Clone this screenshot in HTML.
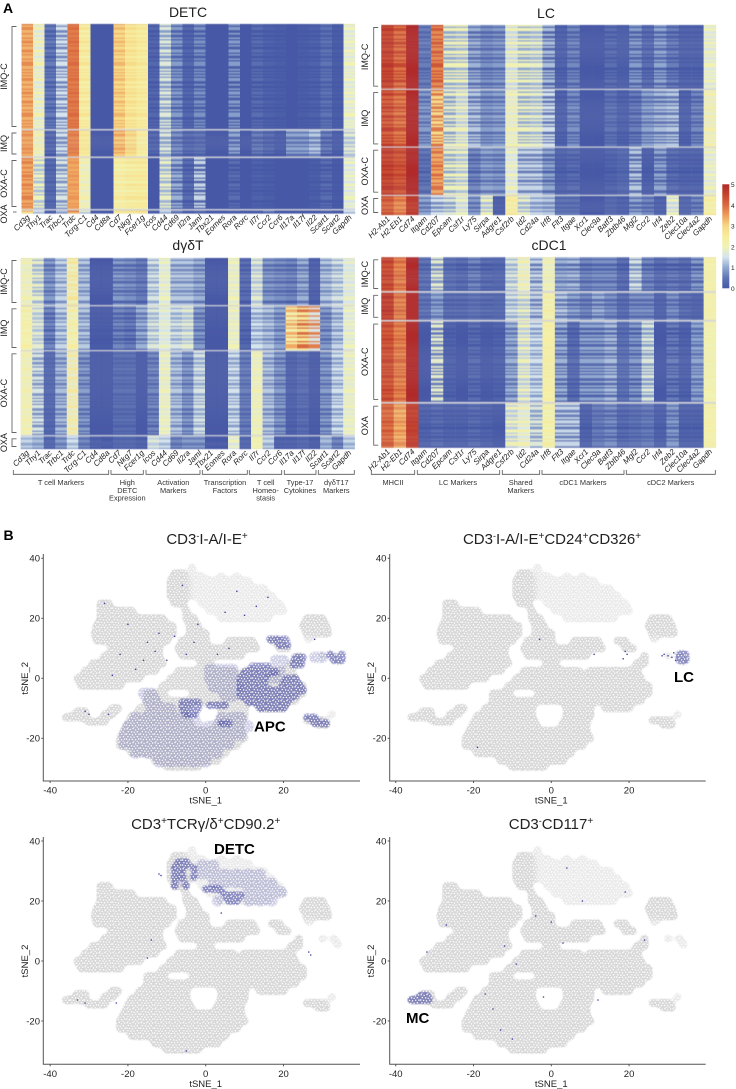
<!DOCTYPE html>
<html lang="en">
<head>
<meta charset="utf-8">
<title>Heatmaps and tSNE plots</title>
<style>
html,body{margin:0;padding:0;background:#fff}
svg{display:block}
text{font-family:"Liberation Sans",sans-serif;fill:#222}
.gene{font-size:8px;font-style:italic}
.grp{font-size:9px;text-anchor:middle}
.cat{font-size:7.4px;text-anchor:middle;fill:#333}
.ttl{font-size:14px;text-anchor:middle}
.ttlb{font-size:15px;text-anchor:middle}
.tick{font-size:9.5px}
.call{font-size:15px;font-weight:bold;fill:#000}
.pl{font-size:14px;font-weight:bold;fill:#000}
</style>
</head>
<body>
<svg id="fig" xmlns="http://www.w3.org/2000/svg" width="736" height="1089" viewBox="0 0 736 1089">
<defs>
<linearGradient id="cbar" x1="0" y1="1" x2="0" y2="0">
<stop offset="0" stop-color="#4658a6"/><stop offset=".1" stop-color="#5f74b4"/><stop offset=".2" stop-color="#90a8d0"/><stop offset=".3" stop-color="#d6e4ee"/><stop offset=".4" stop-color="#f0f3b6"/><stop offset=".5" stop-color="#f8ec9c"/><stop offset=".6" stop-color="#f6d886"/><stop offset=".7" stop-color="#ee9f5c"/><stop offset=".8" stop-color="#d96a40"/><stop offset=".9" stop-color="#c5452f"/><stop offset="1" stop-color="#b02a2a"/>
</linearGradient>
<filter id="heatBlur" x="-2%" y="-2%" width="104%" height="104%"><feGaussianBlur stdDeviation=".25 .55"/></filter>
<filter id="cloudBlur" x="-5%" y="-5%" width="110%" height="110%">
<feGaussianBlur stdDeviation="2.6"/>
<feComponentTransfer><feFuncA type="linear" slope="4" intercept="-1.5"/></feComponentTransfer>
</filter>
<filter id="blueBlur" x="-10%" y="-10%" width="120%" height="120%">
<feGaussianBlur stdDeviation="2.4"/>
<feComponentTransfer><feFuncA type="linear" slope="3" intercept="-1"/></feComponentTransfer>
</filter>
<pattern id="whiteSpeck" patternUnits="userSpaceOnUse" width="14" height="14">
<g fill="#fff"><circle cx="1.2" cy=".8" r=".75"/><circle cx="4.1" cy="1.5" r=".7"/><circle cx="7" cy=".5" r=".75"/><circle cx="9.6" cy="1.9" r=".7"/><circle cx="12.6" cy="1" r=".75"/><circle cx="2.3" cy="3.6" r=".7"/><circle cx="5.6" cy="3.9" r=".75"/><circle cx="8.2" cy="4.3" r=".7"/><circle cx="11.3" cy="3.7" r=".75"/><circle cx=".7" cy="6" r=".75"/><circle cx="3.6" cy="6.4" r=".7"/><circle cx="6.5" cy="6.9" r=".75"/><circle cx="9.7" cy="6.3" r=".7"/><circle cx="13" cy="6.1" r=".75"/><circle cx="1.9" cy="8.7" r=".7"/><circle cx="4.9" cy="9.1" r=".75"/><circle cx="8.1" cy="9.2" r=".7"/><circle cx="11.4" cy="8.6" r=".75"/><circle cx=".6" cy="11" r=".75"/><circle cx="3.4" cy="11.6" r=".7"/><circle cx="6.4" cy="11.4" r=".75"/><circle cx="9.6" cy="11.7" r=".7"/><circle cx="12.7" cy="11" r=".75"/><circle cx="2" cy="13.3" r=".6"/><circle cx="7.9" cy="13.3" r=".6"/><circle cx="11.2" cy="13.2" r=".6"/></g>
</pattern>
</defs>

<text class="pl" x="3" y="13">A</text>
<text class="pl" x="3.5" y="540">B</text>

<text class="ttl" x="188" y="17">DETC</text>
<text class="ttl" x="546" y="18">LC</text>
<text class="ttl" x="188" y="250">dγδT</text>
<text class="ttl" x="549" y="250">cDC1</text>

<g id="heatLayer"></g>

<g fill="none" stroke="#555" stroke-width=".8">
<path d="M13.3 470V474.3H108.7V470"/>
<path d="M111 470V474.3H143.3V470"/>
<path d="M146 470V474.3H200V470"/>
<path d="M202.3 470V474.3H247.3V470"/>
<path d="M249.3 470V474.3H281.7V470"/>
<path d="M284.3 470V474.3H316V470"/>
<path d="M318.3 470V474.3H354.3V470"/>
</g>
<g>
<text class="cat" x="61" y="485">T cell Markers</text>
<text class="cat" x="127.3" y="485">High</text>
<text class="cat" x="127.3" y="493">DETC</text>
<text class="cat" x="127.3" y="500.7">Expression</text>
<text class="cat" x="173.3" y="485">Activation</text>
<text class="cat" x="173.3" y="493">Markers</text>
<text class="cat" x="225" y="485">Transcription</text>
<text class="cat" x="225" y="493">Factors</text>
<text class="cat" x="265.7" y="485">T cell</text>
<text class="cat" x="265.7" y="493">Homeo-</text>
<text class="cat" x="265.7" y="500.7">stasis</text>
<text class="cat" x="300" y="485">Type-17</text>
<text class="cat" x="300" y="493">Cytokines</text>
<text class="cat" x="336.3" y="485">dγδT17</text>
<text class="cat" x="336.3" y="493">Markers</text>
</g>
<g fill="none" stroke="#555" stroke-width=".8">
<path d="M371.3 470V474.3H414.7V470"/>
<path d="M417.3 470V474.3H499.7V470"/>
<path d="M502.3 470V474.3H539.7V470"/>
<path d="M542 470V474.3H624V470"/>
<path d="M626.3 470V474.3H715.3V470"/>
</g>
<g>
<text class="cat" x="393" y="485">MHCII</text>
<text class="cat" x="458" y="485">LC Markers</text>
<text class="cat" x="520.7" y="485">Shared</text>
<text class="cat" x="520.7" y="493">Markers</text>
<text class="cat" x="583" y="485">cDC1 Markers</text>
<text class="cat" x="670.7" y="485">cDC2 Markers</text>
</g>

<g>
<rect x="722.3" y="184.3" width="7" height="104" fill="url(#cbar)"/>
<text x="731" y="187" style="font-size:6.5px">5</text>
<text x="731" y="207.8" style="font-size:6.5px">4</text>
<text x="731" y="228.6" style="font-size:6.5px">3</text>
<text x="731" y="249.4" style="font-size:6.5px">2</text>
<text x="731" y="270.2" style="font-size:6.5px">1</text>
<text x="731" y="291" style="font-size:6.5px">0</text>
</g>

<g id="tsneLayer"></g>

<text class="ttlb" x="207" y="544">CD3<tspan dy="-5" font-size="9">-</tspan><tspan dy="5">I-A/I-E</tspan><tspan dy="-5" font-size="10">+</tspan></text>
<text class="ttlb" x="552" y="544">CD3<tspan dy="-5" font-size="9">-</tspan><tspan dy="5">I-A/I-E</tspan><tspan dy="-5" font-size="10">+</tspan><tspan dy="5">CD24</tspan><tspan dy="-5" font-size="10">+</tspan><tspan dy="5">CD326</tspan><tspan dy="-5" font-size="10">+</tspan></text>
<text class="ttlb" x="205.7" y="829">CD3<tspan dy="-5" font-size="10">+</tspan><tspan dy="5">TCRγ/δ</tspan><tspan dy="-5" font-size="10">+</tspan><tspan dy="5">CD90.2</tspan><tspan dy="-5" font-size="10">+</tspan></text>
<text class="ttlb" x="551" y="829">CD3<tspan dy="-5" font-size="9">-</tspan><tspan dy="5">CD117</tspan><tspan dy="-5" font-size="10">+</tspan></text>

<text class="call" x="254" y="731.5">APC</text>
<text class="call" x="674" y="682">LC</text>
<text class="call" x="214" y="854">DETC</text>
<text class="call" x="406" y="1023">MC</text>
</svg>

<script>
const tcellGenes = ["Cd3g","Thy1","Trac","Trbc1","Trdc","Tcrg-C1","Cd4","Cd8a","Cd7","Nkg7","Fcer1g","Icos","Cd44","Cd69","Il2ra","Jaml","Tbx21","Eomes","Rora","Rorc","Il7r","Ccr2","Ccr6","Il17a","Il17f","Il22","Scart1","Scart2","Gapdh"];
const dcGenes = ["H2-Ab1","H2-Eb1","Cd74","Itgam","Cd207","Epcam","Csf1r","Ly75","Sirpa","Adgre1","Csf2rb","Id2","Cd24a","Irf8","Flt3","Itgae","Xcr1","Clec9a","Batf3","Zbtb46","Mgl2","Ccr2","Irf4","Zeb2","Clec10a","Clec4a2","Gapdh"];
const groupNames = ["IMQ-C","IMQ","OXA-C","OXA"];

const detcSizes = [105,26,51,3];
const lcSizes = [63.7,56.5,47,19];
const gdtSizes = [47,43.7,83.7,12.7];
const cdc1Sizes = [33.7,27,80.3,44];

const detcImqCHigh = [3.7,2.3,.6,1.5,4,2.7,0,0,3.3,2.9,2.7,.3,1.7,.9,.3,.8,0,0,.9,0,.4,.2,.1,0,.1,.2,.5,.1,2.1];
const detcImqCLow = [3.3,1.6,.1,.7,3.8,2.2,0,0,2.9,2.5,2.3,0,.9,.2,0,.1,0,0,.1,0,0,0,0,0,0,0,.1,0,1.6];
const detcImqHigh = [3.7,2.3,.4,1.5,3.9,2.7,0,0,3.5,3.1,2.6,.3,1.7,.8,.4,.5,0,0,1,0,.6,.4,.1,1,1,1.3,.6,.1,1.8];
const detcImqLow = [3.4,1.8,0,.7,3.7,2.4,0,0,3.1,2.7,2.2,0,.9,.2,0,.1,0,0,.2,0,.1,0,0,.4,.4,.6,0,0,1.2];
const detcOxaCHigh = [3.8,2,.4,1.6,3.6,2.3,0,0,2.6,2.7,2.7,0,1.9,1.1,.4,1.4,0,0,.4,0,.2,.1,0,0,0,.1,.4,.05,2];
const detcOxaCLow = [3.4,1.2,.1,.8,3.4,1.8,0,0,2.1,2.2,2.3,0,1.1,.3,0,.3,0,0,0,0,0,0,0,0,0,0,0,0,1.5];
const detcOxaHigh = [3.3,1.5,.2,1.2,3.9,1.8,0,0,2.8,2.9,3,.1,1.4,.7,.2,.4,0,0,.2,0,.1,.6,0,0,0,0,.2,0,1.5];
const detcOxaLow = [2.7,1.1,0,.8,3.3,1.2,0,0,2.4,2.5,2.6,0,1,.3,0,.1,0,0,0,0,0,.2,0,0,0,0,0,0,1.1];

const gdtImqCHigh = [2.2,1.9,.9,1.4,2.7,1.3,0,0,.9,.8,.6,1.6,2,1.3,1.3,1.1,0,0,2.1,.4,1.8,.9,.8,.7,1.1,.2,1.3,1.6,1.9];
const gdtImqCLow = [1.8,1.1,.3,.8,1.9,.7,0,0,.2,.2,.1,1,1.6,.7,.7,.5,0,0,1.7,0,1.2,.3,.2,.1,.5,0,.7,1,1.5];
const gdtImqHigh = [2.4,1.8,.7,1.4,2.5,1.3,.05,.05,.7,.6,1.1,1.7,1.9,1.6,1.8,.9,0,0,2.1,.3,1.5,1.3,1,3.4,4,3.8,.9,1.4,2];
const gdtImqLow = [2,1.2,.1,.8,1.9,.7,0,0,.1,0,.5,1.1,1.5,1,1.2,.3,0,0,1.7,0,.9,.7,.4,2.2,2.6,1.6,.3,.8,1.6];
const gdtOxaCHigh = [2.3,1.6,.3,1.2,2.6,.9,0,0,.4,.4,0,.7,2.1,1.3,.9,1.6,0,0,1.5,.6,2.2,1.3,.9,.2,.4,.05,.9,1.5,2.1];
const gdtOxaCLow = [1.9,.8,.1,.6,1.8,.3,0,0,.1,.1,0,.2,1.7,.7,.3,1,0,0,.9,.2,1.8,.7,.3,0,.1,0,.3,.9,1.7];
const gdtOxaHigh = [1.4,1.2,.3,.9,1.5,.7,.2,.05,.3,.3,.2,1.7,1.5,.7,.9,.9,0,0,2,.3,2.2,1.4,.2,.2,.3,.1,1.2,.7,1.4];
const gdtOxaLow = [1,.8,.1,.5,1.1,.3,0,0,.1,.1,0,1.3,1.1,.3,.5,.5,0,0,1.6,.1,2,1,0,0,.1,0,.8,.3,1];

const lcImqCHigh = [4.8,4.5,5,.6,4.3,2,2.1,1.1,.8,.9,2.1,2,1.9,1.2,.2,.7,0,0,.4,.1,.9,.4,1,.6,.2,.2,2.1];
const lcImqCLow = [4.4,3.9,5,.2,3.7,1,1.1,.3,.2,.3,1.4,1,1.1,.2,0,.1,0,0,0,.05,.1,0,.2,0,0,0,1.6];
const lcImqHigh = [4.7,4.4,5,.9,3.9,1.9,2.1,1.3,.9,1,2.2,2,1.9,1.5,.2,.8,0,0,.5,.2,.6,1,1.2,1.3,.2,.7,2.3];
const lcImqLow = [4.1,3.8,5,.3,2.9,.9,1.3,.5,.3,.4,1.7,1,1.1,.5,0,.2,0,0,.1,0,0,.4,.4,.5,0,.1,1.8];
const lcOxaCHigh = [4.8,4.6,5,.5,4,2,2,.7,1,.9,2.1,1.4,1.4,1,.2,.4,0,0,.2,.3,1.3,.1,1,.4,.2,.2,2.1];
const lcOxaCLow = [4.4,4.2,5,.1,3.4,1,1.2,.1,.4,.3,1.5,.6,.6,.2,0,0,0,0,0,.1,.3,0,.2,0,0,0,1.6];
const lcOxaHigh = [4.4,4,4.8,1,1.5,1.7,2,.9,2,.1,2.6,1.9,1.4,1.3,.5,.5,0,0,.3,.2,1,.7,.2,2,.3,.7,2.5];
const lcOxaLow = [4,3.6,4.6,.4,.7,.9,1.4,.3,1.2,0,2.2,1.1,.8,.7,.1,.1,0,0,.1,0,.2,.1,0,1.4,.1,.1,2.1];

const cdc1ImqCHigh = [4.7,4.1,5,.5,1.8,.5,.4,.7,.4,.3,1.7,2.3,1.4,2.2,1.1,1.2,.7,.8,.8,.4,1.6,.7,.4,.6,.4,.9,2.3];
const cdc1ImqCLow = [4.3,3.7,5,.1,.8,.1,0,.1,0,.1,1.1,1.7,.6,1.8,.5,.4,.1,.2,.2,0,.8,.1,0,0,0,.1,2.1];
const cdc1ImqHigh = [4.9,4.1,5,.5,1,.4,.4,.5,.4,.3,1.6,2,1.4,2.4,1.3,1,.7,1.1,.8,.4,.8,.8,.2,.8,.4,.2,2.3];
const cdc1ImqLow = [4.5,3.7,5,.1,.4,0,0,.1,0,.1,1,1.2,.6,2,.5,.2,.1,.3,.2,0,.2,.2,0,.2,0,0,2.1];
const cdc1OxaCHigh = [4.6,4.1,5,0,1.8,.2,0,.4,.05,.2,1.1,2.1,1.5,2.4,1.1,.4,1,1,1.2,.5,.9,1.7,0,.6,.2,1,2.2];
const cdc1OxaCLow = [4.2,3.7,5,0,.6,0,0,0,0,0,.5,1.3,.9,2.2,.3,0,.2,.2,.4,.1,.1,.9,0,0,0,.4,2];
const cdc1OxaHigh = [4.3,3.7,4.7,.2,.4,.2,.2,.4,.2,.05,2.1,2.2,1.7,2.4,1.4,1.4,.2,.6,.8,.4,.5,.6,.2,.9,.2,.2,2.3];
const cdc1OxaLow = [3.9,3.3,4.5,0,0,0,0,0,0,0,1.3,1.6,.9,2,.6,.6,0,.2,.2,0,.1,.2,0,.3,0,0,2.1];

const rowOrder = [0,1,0,0,1,1,0,1,1,0,1,0,0,1,0,1,1,0,0,1,0,1,1,0,1,0,0,0,1,1,0,1,0,1];
const legendValues = [0,.5,1,1.5,2,2.5,3,3.5,4,4.5,5];
const legendColors = ["#4658a6","#5f74b4","#90a8d0","#d6e4ee","#f0f3b6","#f8ec9c","#f6d886","#ee9f5c","#d96a40","#c5452f","#b02a2a"];

const grayDenseY = [35,32.5,30,27.5,25,22.5,20,17.5,15,12.5,10,7.5,5,2.5,0,-2.5,-5,-7.5,-10,-12.5,-15,-17.5,-20,-22.5,-25,-27.5,-29.5,-13,-11,-14.5,-12,-10,-14,-15.5];
const grayDenseX = [
[-8,-6],
[-9,-7,-5],
[-9,-7,-5],
[-9,-7,-5],
[-27,-25,-8,-6],
[-27,-25,-23,-21,-19,-5],
[-27,-25,-23,-21,-19,-17,-15,-13,-11,-5,-3,26,28,30],
[-28,-26,-24,-22,-20,-18,-16,-14,-12,-10,-8.5,-4,-2,25,27,29,31],
[-28.5,-26,-24,-22,-20,-18,-16,-14,-12,-10,-8.5,-4,-2,0,26,28,30,31.5],
[-28,-26,-24,-22,-20,-18,-16,-14,-12,-10,-6,-4,-2,0,6,8,10,12,17,19],
[-24,-22,-20,-18,-16,-14,-12,-7,-5,-3,-1,1,3,5,7,9,11,13,19,21],
[-26,-24,-22,-20,-18,-16,-14,-12,-6,-4,-2,0,3,5,7,9,24],
[-29,-27,-25,-23,-21,-19,-17,-15,-13,-11,-1,1,22,24],
[-31,-29,-27,-25,-23,-21,-19,-17,-15,-13,-7,-5,-3,-1,1,3,5,7,10,12,14,16,18,20,22],
[-33,-31,-29,-27,-25,-23,-21,-19,-17,-9,-7,-5,-3,-1,1,3,5,7,9,11,13,15,17,19,21,23],
[-32,-30,-28,-26,-24,-22,-11,-9,-7,-5,-3,-1,1,3,5,7,9,11,13,15,17,19,21,23,25],
[-15,-13,-11,-3,-1,1,3,5,7,9,11,13,15,17,19,21,23,25],
[-15,-13,-11,-9,-7,-5,-3,-1,1,3,5,7,9,11,13,15,17,19,21,23],
[-17,-15,-13,-11,-9,-7,-5,4,6,8,10,14,16,18,20],
[-19,-17,-15,-13,-11,-9,-7,-5,4,6,8,10],
[-20,-18,-16,-14,-12,-10,-8,-6,-4,3,5,7,9],
[-21,-19,-17,-15,-13,-11,-9,-7,-5,-3,-1,1,3,5,7,9],
[-22,-20,-18,-16,-14,-12,-10,-8,-6,-4,-2,0,2,4,6,8,10],
[-22,-20,-18,-16,-14,-12,-10,-8,-6,-4,-2,0,2,4,6,8],
[-19,-17,-15,-13,-11,-9,-7,-5,-3,-1,1,3,5],
[-13,-11,-9,-7,-5,-3,-1,1,3],
[-10,-8,-6,-4,-2],
[-36,-34.5,-32.5,-31],
[-33,-31],
[-30,-28,-26],
[-26,-24],
[-24,-22.5],
[26,28,30],
[29,31]
];
const graySparseY = [37,34,32.5,30,27.5,25,22.5,20,13,7.5,5.5,-12];
const graySparseX = [
[-3.5],
[-3,-1,4,8],
[-3,-1,1,3,5,7,9,11],
[-3,-1,1,3,5,7,9,11,13,15],
[-3,-1,1,3,5,7,9,11,13,15,17],
[-1,1,3,5,7,9,11,13,15,17,19],
[1,3,5,7,9,11,13,15,17,19,20],
[4,6,8,10,12,14,16],
[26.5],
[30,33],
[34],
[32.5]
];

const apcDenseY = [13,11,7,4.5,4,2,0,-2,-4,-6,-8,-10,-8,-10,-12,-9,-15,8,6,-13,-15];
const apcDenseX = [
[16.5,18.5,20.5],[19,21],[23,25],[22.5,24.5],[12,14,16],[10,12,14,16,18],
[9,11,13,15,21,23],[9,11,13,15,20,22,24],[9,11,13,15,17,19,21,23,25],
[9,11,13,15,17,19,21,23],[11,13,15,17,19,21],[14,16,18,20],
[-6,-4,-2],[-6,-4,-2],[-5,-3],[1,3,5],[4,6],[32,35],[33,35],[26,28],[28,30,31]
];
const apcSparseY = [6,3,0,-3,-6,-5,-7,-10,-13,-16,-19,-22,-25,-28,7];
const apcSparseX = [
[18,20],[1,3,5,7,19],[1,3,5,7,17,19],[2,4,6,8],[5,7],[-16,-14],[-15,-13],[-14,-11,-9],
[-18,-15,-12,-9,-6,-3,4,7,9],[-20,-17,-14,-11,-8,-5,-2,1,3,6,9,11],
[-21,-18,-15,-12,-9,-6,-3,0,3,6,9],[-21,-18,-15,-12,-9,-6,-3,0,3,6],
[-18,-15,-12,-9,-6,-3,0,3],[-12,-9,-6,-3,0],[28,30]
];
const apcScatterX = [-15,-13,-5,-3,-2,-30,-31,-26,5,8,13,-18,-10,-20,-12,-25,28,-22,3,6,10,-8,-16,-24,16,-6];
const apcScatterY = [12,9,8,12,18,-12,-11,25,22,29,24,3,6,18,15,-12,13,8,8,10,21,14,6,1,27,31];

const detcDenseY = [33,31,28,25,24,22,20];
const detcDenseX = [[-7,-5],[-8,-6,-3],[-8,-6,-3],[-8,-5],[0,2,3.5],[5,7,9],[6,8]];
const detcSparseY = [32,29,26,23,20];
const detcSparseX = [[-1,2],[-1,2,5,8,11,14],[2,5,8,11,14,17],[11,14,17,19.5],[3,11,14,17]];
const detcScatterX = [-12,-11.5,4,27,26.5,-15,-31,-33,-14,-23,-5];
const detcScatterY = [29,28.5,16,2,3,1,-14,-13,7,-14,-30];

const lcDenseY = [8,6];
const lcDenseX = [[33,34.5],[33,34.5]];
const lcSparseY = [];
const lcSparseX = [];
const lcScatterX = [29,30,31,28.5,19,-3,18.5,32,31.5,19.5,11,-19];
const lcScatterY = [8,7.5,7,7.5,9,13,6.5,6,8.5,8,8,-23];

const mcDenseY = [-11.5,-13];
const mcDenseX = [[-33.5,-32],[-36,-34.5,-33,-31.5]];
const mcSparseY = [];
const mcSparseX = [];
const mcScatterX = [4,8,-4,0,3,24,-27,-32,-12,-9,-17,-15,-10,-2,12,19,-13];
const mcScatterY = [31,20,15,13,6,7,12,3,5,-1,-11,-16,-26,-12,-13,23,-23];

const xTickValues = [-40,-20,0,20];
const yTickValues = [-20,0,20,40];

const SVGNS = "http://www.w3.org/2000/svg";
function colorFor(v){
  let t = Math.max(0, Math.min(5, v));
  let i = 0;
  while(i < legendValues.length - 2 && t > legendValues[i + 1]) i++;
  const f = (t - legendValues[i]) / (legendValues[i + 1] - legendValues[i]);
  const a = legendColors[i], b = legendColors[i + 1];
  let out = "rgb(";
  for(let k = 0; k < 3; k++){
    const p = parseInt(a.substr(1 + 2 * k, 2), 16), q = parseInt(b.substr(1 + 2 * k, 2), 16);
    out += Math.round(p + (q - p) * f) + (k < 2 ? "," : ")");
  }
  return out;
}

const heatLayer = document.getElementById("heatLayer");
function drawHeatmap(cfg){
  const g = document.createElementNS(SVGNS, "g");
  
  
  const cells = document.createElementNS(SVGNS, "g");
  cells.setAttribute("filter", "url(#heatBlur)");
  
  
  const total = cfg.sizes.reduce((s, v) => s + v, 0);
  const scaleY = (cfg.h - cfg.gap * 3) / total;
  const cw = cfg.w / cfg.genes.length;
  const xOf = i => cfg.x + i * cw;
  const bg = document.createElementNS(SVGNS, "rect");
  bg.setAttribute("x", cfg.x);
  bg.setAttribute("y", cfg.y);
  bg.setAttribute("width", cfg.w);
  bg.setAttribute("height", cfg.h);
  bg.setAttribute("fill", "#d4d5da");
  
  
  g.appendChild(bg);
  g.appendChild(cells);
  let y = cfg.y;
  cfg.sizes.forEach((size, gi) => {
    const h = size * scaleY;
    const n = Math.max(1, Math.round(h / 1.5));
    const rh = h / n;
    for(let r = 0; r < n; r++){
      const vals = cfg.rows[gi][rowOrder[r % rowOrder.length]];
      vals.forEach((v, c) => {
        const el = document.createElementNS(SVGNS, "rect");
        el.setAttribute("x", xOf(c).toFixed(2));
        el.setAttribute("y", (y + r * rh).toFixed(2));
        el.setAttribute("width", (cw + .2).toFixed(2));
        el.setAttribute("height", (rh + .05).toFixed(2));
        el.setAttribute("fill", colorFor(v));
        
        
        cells.appendChild(el);
      });
    }
    const top = y + 2.5, bot = y + h - 2.5;
    const br = document.createElementNS(SVGNS, "path");
    const bx = cfg.bracketX;
    br.setAttribute("d", h > 8 ? `M${bx + 4.5} ${top}H${bx}V${bot}H${bx + 4.5}` : `M${bx + 1} ${y + h / 2}H${bx + 4.5}`);
    br.setAttribute("fill", "none");
    br.setAttribute("stroke", "#666");
    br.setAttribute("stroke-width", ".9");
    
    
    g.appendChild(br);
    const tx = document.createElementNS(SVGNS, "text");
    const ly = h > 8 ? y + h / 2 : y + h / 2 + 2;
    tx.setAttribute("class", "grp");
    tx.setAttribute("transform", `translate(${cfg.labelX} ${ly}) rotate(-90)`);
    tx.setAttribute("y", "3");
    tx.textContent = groupNames[gi];
    
    
    g.appendChild(tx);
    y += h + cfg.gap;
  });
  cfg.genes.forEach((name, i) => {
    const cx = xOf(i) + cw / 2 + 3, cy = cfg.y + cfg.h + 4.5;
    const tx = document.createElementNS(SVGNS, "text");
    tx.setAttribute("class", "gene");
    tx.setAttribute("text-anchor", "end");
    tx.setAttribute("x", cx.toFixed(1));
    tx.setAttribute("y", cy.toFixed(1));
    tx.setAttribute("transform", `rotate(-45 ${cx.toFixed(1)} ${cy.toFixed(1)})`);
    tx.textContent = name;
    
    
    g.appendChild(tx);
  });
  heatLayer.appendChild(g);
}
drawHeatmap({name:"detc-heatmap",x:21.5,y:24,w:333.5,h:189.5,gap:1.5,bracketX:12,labelX:4,genes:tcellGenes,sizes:detcSizes,
  rows:[[detcImqCHigh,detcImqCLow],[detcImqHigh,detcImqLow],[detcOxaCHigh,detcOxaCLow],[detcOxaHigh,detcOxaLow]]});
drawHeatmap({name:"lc-heatmap",x:381.3,y:25,w:334.7,h:190,gap:1.3,bracketX:373.7,labelX:365,genes:dcGenes,sizes:lcSizes,
  rows:[[lcImqCHigh,lcImqCLow],[lcImqHigh,lcImqLow],[lcOxaCHigh,lcOxaCLow],[lcOxaHigh,lcOxaLow]]});
drawHeatmap({name:"gd-t-heatmap",x:20.7,y:258,w:334,h:191,gap:1.3,bracketX:12,labelX:4,genes:tcellGenes,sizes:gdtSizes,
  rows:[[gdtImqCHigh,gdtImqCLow],[gdtImqHigh,gdtImqLow],[gdtOxaCHigh,gdtOxaCLow],[gdtOxaHigh,gdtOxaLow]]});
drawHeatmap({name:"cdc1-heatmap",x:381.3,y:257.3,w:334.7,h:190.4,gap:1.8,bracketX:373.7,labelX:365,genes:dcGenes,sizes:cdc1Sizes,
  rows:[[cdc1ImqCHigh,cdc1ImqCLow],[cdc1ImqHigh,cdc1ImqLow],[cdc1OxaCHigh,cdc1OxaCLow],[cdc1OxaHigh,cdc1OxaLow]]});

const tsneLayer = document.getElementById("tsneLayer");
function drawTsne(cfg){
  const g = document.createElementNS(SVGNS, "g");
  
  
  const sx = v => cfg.x0 + 3.889 * v;
  const sy = v => cfg.y0 - 3 * v;
  function cloud(parent, ys, xs, fill, r, label){
    ys.forEach((yv, i) => {
      xs[i].forEach(xv => {
        const c = document.createElementNS(SVGNS, "circle");
        c.setAttribute("cx", sx(xv).toFixed(1));
        c.setAttribute("cy", sy(yv).toFixed(1));
        c.setAttribute("r", r);
        c.setAttribute("fill", fill);
        
        
        parent.appendChild(c);
      });
    });
  }
  const grayGroup = document.createElementNS(SVGNS, "g");
  grayGroup.setAttribute("filter", "url(#cloudBlur)");
  
  
  cloud(grayGroup, graySparseY, graySparseX, "#ebebeb", 4.7, "gray-cell-cloud");
  cloud(grayGroup, grayDenseY, grayDenseX, "#d9d9d9", 4.7, "gray-cell-cloud");
  g.appendChild(grayGroup);
  const blueSparse = document.createElementNS(SVGNS, "g");
  blueSparse.setAttribute("opacity", ".24");
  blueSparse.setAttribute("filter", "url(#blueBlur)");
  
  
  cloud(blueSparse, cfg.sparseY, cfg.sparseX, "#3c419f", 6, "blue-cell-cloud");
  g.appendChild(blueSparse);
  const blueDense = document.createElementNS(SVGNS, "g");
  blueDense.setAttribute("opacity", ".55");
  blueDense.setAttribute("filter", "url(#blueBlur)");
  
  
  cloud(blueDense, cfg.denseY, cfg.denseX, "#3c419f", 4.4, "blue-cell-cloud");
  g.appendChild(blueDense);
  const speck = document.createElementNS(SVGNS, "rect");
  speck.setAttribute("x", cfg.axisX + 1);
  speck.setAttribute("y", cfg.top);
  speck.setAttribute("width", cfg.right - cfg.axisX - 1);
  speck.setAttribute("height", cfg.bottom - cfg.top - 1);
  speck.setAttribute("fill", "url(#whiteSpeck)");
  
  
  g.appendChild(speck);
  cfg.scatterX.forEach((xv, i) => {
    const c = document.createElementNS(SVGNS, "circle");
    c.setAttribute("cx", sx(xv).toFixed(1));
    c.setAttribute("cy", sy(cfg.scatterY[i]).toFixed(1));
    c.setAttribute("r", ".8");
    c.setAttribute("fill", "#3c419f");
    
    
    g.appendChild(c);
  });
  const axis = document.createElementNS(SVGNS, "path");
  axis.setAttribute("d", `M${cfg.axisX} ${cfg.top}V${cfg.bottom}H${cfg.right}`);
  axis.setAttribute("fill", "none");
  axis.setAttribute("stroke", "#555");
  axis.setAttribute("stroke-width", "1");
  
  
  g.appendChild(axis);
  xTickValues.forEach(v => {
    const t = document.createElementNS(SVGNS, "path");
    t.setAttribute("d", `M${sx(v)} ${cfg.bottom}v2`);
    t.setAttribute("stroke", "#555");
    
    
    g.appendChild(t);
    const l = document.createElementNS(SVGNS, "text");
    l.setAttribute("class", "tick");
    l.setAttribute("text-anchor", "middle");
    l.setAttribute("x", sx(v));
    l.setAttribute("y", cfg.bottom + 12.5);
    l.textContent = v;
    
    
    g.appendChild(l);
  });
  yTickValues.forEach(v => {
    const t = document.createElementNS(SVGNS, "path");
    t.setAttribute("d", `M${cfg.axisX} ${sy(v)}h-2`);
    t.setAttribute("stroke", "#555");
    
    
    g.appendChild(t);
    const l = document.createElementNS(SVGNS, "text");
    l.setAttribute("class", "tick");
    l.setAttribute("text-anchor", "end");
    l.setAttribute("x", cfg.axisX - 3.3);
    l.setAttribute("y", sy(v) + 3.4);
    l.textContent = v;
    
    
    g.appendChild(l);
  });
  const xt = document.createElementNS(SVGNS, "text");
  xt.setAttribute("class", "tick");
  xt.setAttribute("text-anchor", "middle");
  xt.setAttribute("x", cfg.x0);
  xt.setAttribute("y", cfg.bottom + 22.5);
  xt.textContent = "tSNE_1";
  
  
  g.appendChild(xt);
  const yt = document.createElementNS(SVGNS, "text");
  yt.setAttribute("class", "tick");
  yt.setAttribute("text-anchor", "middle");
  yt.setAttribute("transform", `translate(${cfg.axisX - 15.5} ${cfg.y0}) rotate(-90)`);
  yt.textContent = "tSNE_2";
  
  
  g.appendChild(yt);
  tsneLayer.appendChild(g);
}
drawTsne({name:"tsne-apc",x0:205.7,y0:678.3,axisX:43.3,top:554,bottom:781,right:360,denseY:apcDenseY,denseX:apcDenseX,sparseY:apcSparseY,sparseX:apcSparseX,scatterX:apcScatterX,scatterY:apcScatterY});
drawTsne({name:"tsne-lc",x0:551.3,y0:678.3,axisX:389.7,top:554,bottom:781,right:705.7,denseY:lcDenseY,denseX:lcDenseX,sparseY:lcSparseY,sparseX:lcSparseX,scatterX:lcScatterX,scatterY:lcScatterY});
drawTsne({name:"tsne-detc",x0:205.7,y0:961,axisX:43.3,top:837,bottom:1064.3,right:360,denseY:detcDenseY,denseX:detcDenseX,sparseY:detcSparseY,sparseX:detcSparseX,scatterX:detcScatterX,scatterY:detcScatterY});
drawTsne({name:"tsne-mc",x0:551.3,y0:961,axisX:389.7,top:837,bottom:1064.3,right:705.7,denseY:mcDenseY,denseX:mcDenseX,sparseY:mcSparseY,sparseX:mcSparseX,scatterX:mcScatterX,scatterY:mcScatterY});
</script>
</body>
</html>
